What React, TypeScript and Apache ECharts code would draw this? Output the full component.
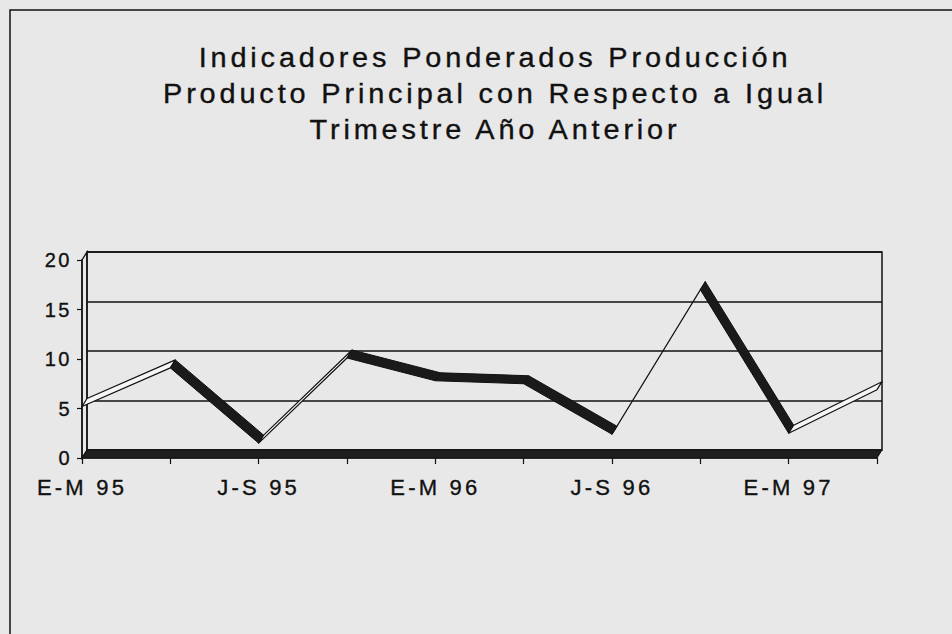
import React, { useEffect, useRef } from "react";
import * as echarts from "echarts";

const categories = [
  "E-M 95", "A-J 95", "J-S 95", "O-D 95",
  "E-M 96", "A-J 96", "J-S 96", "O-D 96",
  "E-M 97", "A-J 97",
];
const values = [5.2, 9.1, 1.5, 10.1, 7.8, 7.5, 2.4, 17.0, 2.5, 6.9];
const yTicks = { min: 0, max: 20, interval: 5 };
const titleLines = [
  "Indicadores Ponderados Producción",
  "Producto Principal con Respecto a Igual",
  "Trimestre Año Anterior",
];

const DEPTH_X = 5;
const DEPTH_Y = -8;
const INK = "#111";
const FONT = "'Liberation Sans', Arial, sans-serif";

function spaceTexts(root: HTMLElement | null) {
  if (!root) return;
  root.querySelectorAll("text").forEach((el) => {
    const t = (el.textContent || "").trim();
    let ls: string | null = null;
    if (titleLines.includes(t)) ls = "3.6";
    else if (categories.includes(t)) ls = "3.2";
    else if (/^\d+$/.test(t)) ls = "2.5";
    if (ls) el.setAttribute("letter-spacing", ls);
  });
}

export default function App() {
  const ref = useRef<HTMLDivElement>(null);
  useEffect(() => {
    if (!ref.current) return;
    const chart = echarts.init(ref.current, undefined, { renderer: "svg" });
    const segments = values.slice(0, -1).map((v, i) => [i, v, values[i + 1]]);
    const last = categories.length - 1;

    const option: any = {
      animation: false,
      backgroundColor: "#e8e8e8",
      graphic: [
        {
          type: "rect",
          shape: { x: 10, y: 10, width: 1000, height: 1000 },
          style: { fill: "none", stroke: INK, lineWidth: 1.5 },
          silent: true,
        },
        ...titleLines.map((t, i) => ({
          type: "text",
          x: 495,
          y: 58 + i * 36,
          scaleX: 1.07,
          style: {
            text: t,
            fill: INK,
            stroke: INK,
            lineWidth: 0.35,
            font: `27px ${FONT}`,
            textAlign: "center",
            textVerticalAlign: "middle",
          },
        })),
      ],
      grid: [
        { left: 82, right: 75, top: 260, bottom: 176, show: false },
        {
          left: 87, right: 70, top: 252, bottom: 184, show: true,
          borderColor: INK, borderWidth: 1.5, backgroundColor: "transparent",
        },
      ],
      xAxis: [
        {
          type: "category",
          gridIndex: 0,
          data: categories,
          boundaryGap: false,
          axisLine: { show: true, lineStyle: { color: INK, width: 1.5 } },
          axisTick: { show: true, interval: 0, length: 6, lineStyle: { color: INK, width: 1.2 } },
          axisLabel: {
            interval: 1,
            margin: 18,
            color: INK,
            fontSize: 22,
            fontFamily: FONT,
            textBorderColor: INK,
            textBorderWidth: 0.35,
          },
          splitLine: { show: false },
        },
        {
          type: "category",
          gridIndex: 1,
          data: categories,
          boundaryGap: false,
          show: false,
        },
      ],
      yAxis: [
        {
          type: "value",
          gridIndex: 0,
          min: yTicks.min,
          max: yTicks.max,
          interval: yTicks.interval,
          axisLine: { show: true, lineStyle: { color: INK, width: 1.5 } },
          axisTick: { show: true, length: 5, lineStyle: { color: INK, width: 1.2 } },
          axisLabel: {
            margin: 10,
            color: INK,
            fontSize: 20,
            fontFamily: FONT,
            textBorderColor: INK,
            textBorderWidth: 0.35,
          },
          splitLine: { show: false },
        },
        {
          type: "value",
          gridIndex: 1,
          min: yTicks.min,
          max: yTicks.max,
          interval: yTicks.interval,
          axisLine: { show: false },
          axisTick: { show: false },
          axisLabel: { show: false },
          splitLine: { show: true, lineStyle: { color: INK, width: 1.5 } },
        },
      ],
      series: [
        {
          type: "custom",
          name: "floor",
          xAxisIndex: 0,
          yAxisIndex: 0,
          clip: false,
          silent: true,
          z: 3,
          data: [[0]],
          renderItem: (params: any, api: any) => {
            const f0 = api.coord([0, 0]);
            const f1 = api.coord([last, 0]);
            const t0 = api.coord([0, yTicks.max]);
            const off = (p: number[]) => [p[0] + DEPTH_X, p[1] + DEPTH_Y];
            return {
              type: "group",
              children: [
                {
                  type: "polygon",
                  shape: { points: [f0, f1, off(f1), off(f0)] },
                  style: { fill: "#1e1e1e", stroke: INK, lineWidth: 1 },
                },
                {
                  type: "polygon",
                  shape: { points: [f0, t0, off(t0), off(f0)] },
                  style: { fill: "none", stroke: INK, lineWidth: 1.3 },
                },
              ],
            };
          },
        },
        {
          type: "custom",
          name: "Indicadores",
          xAxisIndex: 0,
          yAxisIndex: 0,
          clip: false,
          silent: true,
          z: 4,
          data: segments,
          renderItem: (params: any, api: any) => {
            const i = api.value(0);
            const a = api.coord([i, api.value(1)]);
            const b = api.coord([i + 1, api.value(2)]);
            const off = (p: number[]) => [p[0] + DEPTH_X, p[1] + DEPTH_Y];
            const down = b[1] > a[1];
            return {
              type: "polygon",
              shape: { points: [a, b, off(b), off(a)] },
              style: down
                ? { fill: "#1a1a1a", stroke: INK, lineWidth: 1, lineJoin: "round" }
                : { fill: "#f6f6f6", stroke: INK, lineWidth: 1.2, lineJoin: "round" },
            };
          },
        },
      ],
    };
    const onFinished = () => spaceTexts(ref.current);
    chart.on("finished", onFinished);
    chart.setOption(option);
    spaceTexts(ref.current);
    return () => {
      chart.off("finished", onFinished);
      chart.dispose();
    };
  }, []);
  return (
    <div
      ref={ref}
      style={{ position: "fixed", left: 0, top: 0, width: 952, height: 634 }}
    />
  );
}
